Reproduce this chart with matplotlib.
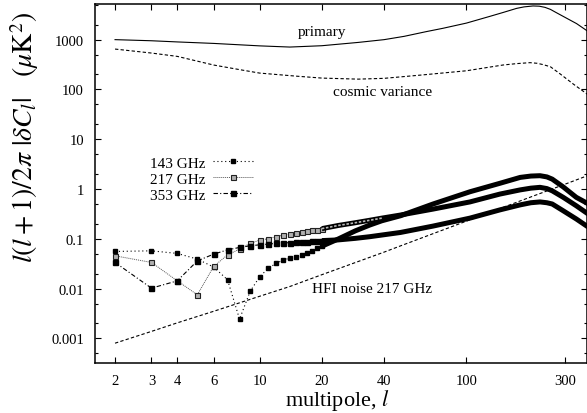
import matplotlib
matplotlib.use("Agg")
import matplotlib.pyplot as plt
from matplotlib.ticker import FixedLocator, FixedFormatter, LogLocator, NullFormatter
import numpy as np

plt.rcParams['font.family'] = 'serif'
plt.rcParams['font.serif'] = ['Liberation Serif', 'DejaVu Serif']
plt.rcParams['mathtext.fontset'] = 'stix'

# primary spectrum and cosmic variance
l_cmb = [2, 3, 4, 6, 10, 14, 20, 30, 40, 50, 64, 77, 100, 130, 150, 175, 190, 210,
         225, 240, 255, 270, 300, 341, 383, 400]
primary = [1000, 950, 900, 840, 750, 710, 755, 880, 1000, 1165, 1450, 1690, 2150, 2940,
           3500, 4250, 4550, 4750, 4700, 4450, 4050, 3550, 2800, 2100, 1510, 1350]
l_cv = [2, 3, 4, 6, 8, 10, 15, 20, 30, 40, 60, 100, 150, 175, 203, 220, 235, 255, 284, 300,
        329, 383, 400]
cosmic = [647, 538, 461, 309, 250, 213, 185, 169, 161, 167, 194, 237, 309, 330, 345, 335,
          315, 285, 205, 172, 128, 81, 72]

# HFI noise at 217 GHz
l_noise = [2, 3, 4, 6, 10, 14, 20, 40, 48, 100, 200, 300, 390]
noise = [8.0e-4, 1.38e-3, 2.05e-3, 3.5e-3, 7.0e-3, 0.011, 0.019, 0.054, 0.072, 0.226, 0.667, 1.25, 1.89]

# |delta C_l| per channel
ell = [2, 3, 4, 5, 6, 7, 8, 9, 10, 11, 12, 13, 14, 15, 16, 17, 18, 19, 20,
       24, 29, 34, 39, 48, 69, 104, 145, 182, 205, 227, 245, 260, 294, 340, 390]
dc143 = [0.0557, 0.0573, 0.0508, 0.0391, 0.027, 0.015, 0.00243, 0.00877, 0.0172, 0.0254,
         0.032, 0.0373, 0.0409, 0.0434, 0.048, 0.053, 0.058, 0.064, 0.071,
         0.099, 0.144, 0.188, 0.23, 0.29, 0.50, 0.88, 1.30, 1.71, 1.82, 1.85, 1.75, 1.58, 1.10, 0.68, 0.50]
dc217 = [0.0455, 0.0335, 0.0143, 0.0075, 0.0279, 0.0476, 0.062, 0.0807, 0.094, 0.10,
         0.11, 0.118, 0.125, 0.132, 0.137, 0.142, 0.148, 0.153, 0.16,
         0.185, 0.21, 0.235, 0.26, 0.30, 0.395, 0.55, 0.79, 0.96, 1.04, 1.08, 1.02, 0.92, 0.68, 0.46, 0.31]
dc353 = [0.0335, 0.0102, 0.0143, 0.036, 0.0492, 0.060, 0.067, 0.0723, 0.0757, 0.078,
         0.081, 0.082, 0.084, 0.086, 0.087, 0.088, 0.089, 0.090, 0.092,
         0.095, 0.102, 0.11, 0.119, 0.134, 0.18, 0.26, 0.38, 0.48, 0.53, 0.55, 0.53, 0.50, 0.365, 0.25, 0.17]

xticks = [2, 3, 4, 6, 10, 20, 40, 100, 300]
yticks = [0.001, 0.01, 0.1, 1, 10, 100, 1000]
ytick_labels = ['0.001', '0.01', '0.1', '1', '10', '100', '1000']

fig = plt.figure(figsize=(5.87, 4.14), dpi=100)
ax = fig.add_axes([95 / 587, 50 / 414, 1 - 95 / 587, 359 / 414])
ax.set_xscale('log')
ax.set_yscale('log')

ax.plot(l_cmb, primary, color='black', lw=0.8)
ax.plot(l_cv, cosmic, color='black', lw=0.8, ls=(0, (3, 2)))
ax.plot(l_noise, noise, color='black', lw=0.8, ls=(0, (3, 2)))

ell = np.array(ell)
lo = ell <= 20
hi = ell >= 20
band = 3.6

# 143 GHz
ax.plot(ell[lo], np.array(dc143)[lo], color='black', lw=0.8, ls=(0, (1, 2.5)),
        marker='s', ms=2.6, mfc='black', mec='black', label='143 GHz')
ax.plot(ell[hi], np.array(dc143)[hi], color='black', lw=band, solid_capstyle='butt')

# 217 GHz
ax.plot(ell[lo], np.array(dc217)[lo], color='#555555', lw=0.7, ls=(0, (1, 1)),
        marker='s', ms=3.6, mfc='#b0b0b0', mec='#222222', mew=0.8, label='217 GHz')
ax.plot(ell[hi], np.array(dc217)[hi], color='black', lw=band, solid_capstyle='butt')
mid = (ell >= 20) & (ell <= 39)
ax.plot(ell[mid], np.array(dc217)[mid], color='#b8b8b8', lw=1.2, ls=(0, (1.5, 1)))

# 353 GHz
ax.plot(ell[lo], np.array(dc353)[lo], color='black', lw=0.8, ls=(0, (4, 2, 1, 2)),
        marker='s', ms=3.6, mfc='black', mec='black', label='353 GHz')
ax.plot(ell[hi], np.array(dc353)[hi], color='black', lw=band, solid_capstyle='butt')

ax.set_xlim(1.6, 383)
ax.set_ylim(3.2e-4, 5200)

ax.xaxis.set_major_locator(FixedLocator(xticks))
ax.xaxis.set_major_formatter(FixedFormatter([str(t) for t in xticks]))
ax.xaxis.set_minor_locator(FixedLocator([]))
ax.yaxis.set_major_locator(FixedLocator(yticks))
ax.yaxis.set_major_formatter(FixedFormatter(ytick_labels))
ax.yaxis.set_minor_locator(LogLocator(base=10, subs=(2, 5)))
ax.yaxis.set_minor_formatter(NullFormatter())

ax.tick_params(which='both', direction='in', top=True, right=True, labelsize=10.5, pad=8)
ax.tick_params(which='major', length=4.5, width=0.8)
ax.tick_params(which='minor', length=2.5, width=0.8)
for s in ax.spines.values():
    s.set_linewidth(1.1)

ax.text(20, 1490, 'primary', ha='center', va='center', fontsize=11)
ax.text(39.5, 90, 'cosmic variance', ha='center', va='center', fontsize=11)
ax.text(35, 0.0102, 'HFI noise 217 GHz', ha='center', va='center', fontsize=11)

ax.legend(loc='upper right', bbox_to_anchor=(253 / 587, 1 - 157 / 414),
          bbox_transform=fig.transFigure, markerfirst=False, frameon=False,
          fontsize=11, numpoints=1, handlelength=2.6, handletextpad=0.5,
          labelspacing=0.15, borderpad=0, borderaxespad=0)

fig.text(337 / 587, 1 - 406 / 414, r'multipole, $l$', ha='center', va='baseline', fontsize=16)
fig.text(25 / 587, 1 - 137 / 414, r'$l(l+1)/2\pi\ |\delta C_l|\ \ \ (\mu\mathrm{K}^2)$',
         ha='center', va='center', rotation=90, fontsize=20)

fig.savefig('out.png', dpi=100)
